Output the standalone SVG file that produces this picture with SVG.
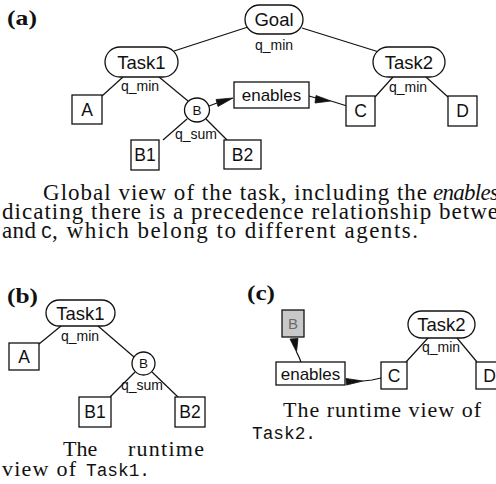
<svg xmlns="http://www.w3.org/2000/svg" width="496" height="484" viewBox="0 0 496 484">
<style>
.n{fill:#fff;stroke:#111;stroke-width:1.3}
.g{fill:#c8c8c8;stroke:#111;stroke-width:1.3}
.e{fill:none;stroke:#111;stroke-width:1.2}
.h{fill:#111;stroke:#111;stroke-width:0.8}
.t{font-family:"Liberation Sans",Arial,sans-serif;fill:#111;text-anchor:middle}
.big{font-size:18.5px}
.box{font-size:17.5px}
.q{font-size:14px}
.s{font-family:"Liberation Serif","Times New Roman",serif;font-size:23px;fill:#111}
.s2{font-family:"Liberation Serif","Times New Roman",serif;font-size:22px;fill:#111}
.m{font-family:"Liberation Mono","Courier New",monospace;font-size:18px;fill:#111}
.lab{font-family:"Liberation Serif","Times New Roman",serif;font-size:22px;font-weight:bold;fill:#111}
</style>
<rect width="496" height="484" fill="#fff"/>

<!-- (a) -->
<text class="lab" x="7" y="25" textLength="30" lengthAdjust="spacingAndGlyphs">(a)</text>
<g id="a-connectors">
<line class="e" x1="174" y1="51" x2="248" y2="27"/>
<line class="e" x1="302" y1="28" x2="379" y2="52"/>
<line class="e" x1="123" y1="77" x2="102" y2="96"/>
<line class="e" x1="159" y1="77" x2="188" y2="101"/>
<line class="e" x1="187" y1="119" x2="163" y2="140"/>
<line class="e" x1="206" y1="119" x2="227" y2="140"/>
<line class="e" x1="393" y1="77" x2="375" y2="97"/>
<line class="e" x1="426" y1="77" x2="448" y2="97"/>
<polyline class="e" points="209,106 217,103"/>
<polygon class="h" points="216,99.5 218,106.5 233,98"/>
<polyline class="e" points="309,96 316,98"/>
<polygon class="h" points="316,95.5 315,103 331,101"/>
<polyline class="e" points="331,101 347,106"/>
</g>
<g id="a-goal"><rect class="n" x="245" y="5" width="58" height="29" rx="14.5"/><text class="t big" x="274" y="26">Goal</text><text class="t q" x="274" y="50">q_min</text></g>
<g id="a-task1"><rect class="n" x="105" y="47" width="73" height="30" rx="15"/><text class="t big" x="141.5" y="68.6">Task1</text><text class="t q" x="140" y="91">q_min</text></g>
<g id="a-task2"><rect class="n" x="373" y="47" width="72" height="30" rx="15"/><text class="t big" x="409" y="68.6">Task2</text><text class="t q" x="408" y="92">q_min</text></g>
<g id="a-A"><rect class="n" x="72" y="95" width="30" height="29"/><text class="t box" x="87" y="115.8">A</text></g>
<g id="a-B"><ellipse class="n" cx="197" cy="110" rx="12.5" ry="12"/><text class="t" style="font-size:13.5px" x="197" y="114.8">B</text><text class="t q" x="196" y="139">q_sum</text></g>
<g id="a-B1"><rect class="n" x="131" y="140" width="28" height="30"/><text class="t box" x="145" y="161">B1</text></g>
<g id="a-B2"><rect class="n" x="224" y="140" width="37" height="29"/><text class="t box" x="242.5" y="160.8">B2</text></g>
<g id="a-enables"><rect class="n" x="234" y="82" width="75" height="26"/><text class="t" style="font-size:17px" x="271.5" y="101">enables</text></g>
<g id="a-C"><rect class="n" x="346" y="96" width="29" height="30"/><text class="t box" x="360.5" y="117.3">C</text></g>
<g id="a-D"><rect class="n" x="448" y="96" width="29" height="30"/><text class="t box" x="462.5" y="117.3">D</text></g>

<g id="a-caption">
<text class="s" x="43" y="200" textLength="384" lengthAdjust="spacing">Global view of the task, including the</text>
<text class="s" x="433" y="200" font-style="italic" textLength="66" lengthAdjust="spacing">enables</text>
<text class="s" x="2" y="219" textLength="496" lengthAdjust="spacing">dicating there is a precedence relationship betwe</text>
<text class="s" x="2" y="238" textLength="34" lengthAdjust="spacing">and</text>
<text class="m" x="41" y="238" textLength="11" lengthAdjust="spacingAndGlyphs">C</text>
<text class="s" x="52" y="238" textLength="366" lengthAdjust="spacing">, which belong to different agents.</text>
</g>

<!-- (b) -->
<text class="lab" x="7" y="303" textLength="31" lengthAdjust="spacingAndGlyphs">(b)</text>
<g id="b-connectors">
<line class="e" x1="61" y1="326" x2="39" y2="344"/>
<line class="e" x1="98" y1="326" x2="134" y2="357"/>
<line class="e" x1="135" y1="372" x2="110" y2="397"/>
<line class="e" x1="152" y1="372" x2="178" y2="397"/>
</g>
<g id="b-task1"><rect class="n" x="46" y="300" width="69" height="26" rx="13"/><text class="t big" x="80.5" y="320">Task1</text><text class="t q" x="80" y="341">q_min</text></g>
<g id="b-A"><rect class="n" x="9" y="343" width="30" height="27"/><text class="t box" x="24" y="362.8">A</text></g>
<g id="b-B"><ellipse class="n" cx="143.5" cy="363.5" rx="11.5" ry="11.5"/><text class="t" style="font-size:13.5px" x="143.5" y="368.3">B</text><text class="t q" x="142" y="390">q_sum</text></g>
<g id="b-B1"><rect class="n" x="79" y="397" width="32" height="30"/><text class="t box" x="95" y="418.3">B1</text></g>
<g id="b-B2"><rect class="n" x="175" y="397" width="30" height="30"/><text class="t box" x="190" y="418.3">B2</text></g>
<g id="b-caption">
<text class="s2" x="63" y="456">The</text>
<text class="s2" x="128" y="456" textLength="76" lengthAdjust="spacing">runtime</text>
<text class="s2" x="2" y="476" textLength="74" lengthAdjust="spacing">view of</text>
<text class="m" x="86" y="476" textLength="64" lengthAdjust="spacingAndGlyphs">Task1.</text>
</g>

<!-- (c) -->
<text class="lab" x="247" y="300" textLength="28" lengthAdjust="spacingAndGlyphs">(c)</text>
<g id="c-connectors">
<polygon class="h" points="290,339 298,338.5 296.5,352"/>
<polyline class="e" points="296.5,352 299,357 301,362"/>
<polygon class="h" points="346,378.5 346.5,385 363,381"/>
<polyline class="e" points="363,381 372,380 381,378"/>
<line class="e" x1="428" y1="338" x2="406" y2="362"/>
<line class="e" x1="457" y1="338" x2="477" y2="362"/>
</g>
<g id="c-B"><rect class="g" x="282" y="310" width="22" height="27"/><text class="t" style="font-size:15px;fill:#6a6a6a" x="293" y="329">B</text></g>
<g id="c-enables"><rect class="n" x="276" y="362" width="69" height="23"/><text class="t" style="font-size:17px" x="310.5" y="380">enables</text></g>
<g id="c-C"><rect class="n" x="381" y="362" width="26" height="27"/><text class="t box" x="394" y="381.8">C</text></g>
<g id="c-task2"><rect class="n" x="408" y="311" width="67" height="27" rx="13.5"/><text class="t big" x="441.5" y="331">Task2</text><text class="t q" x="441" y="352">q_min</text></g>
<g id="c-D"><rect class="n" x="476" y="362" width="27" height="27"/><text class="t box" x="489.5" y="381.8">D</text></g>
<g id="c-caption">
<text class="s2" x="283" y="417" textLength="198" lengthAdjust="spacing">The runtime view of</text>
<text class="m" x="252" y="439" textLength="64" lengthAdjust="spacingAndGlyphs">Task2.</text>
</g>
</svg>
